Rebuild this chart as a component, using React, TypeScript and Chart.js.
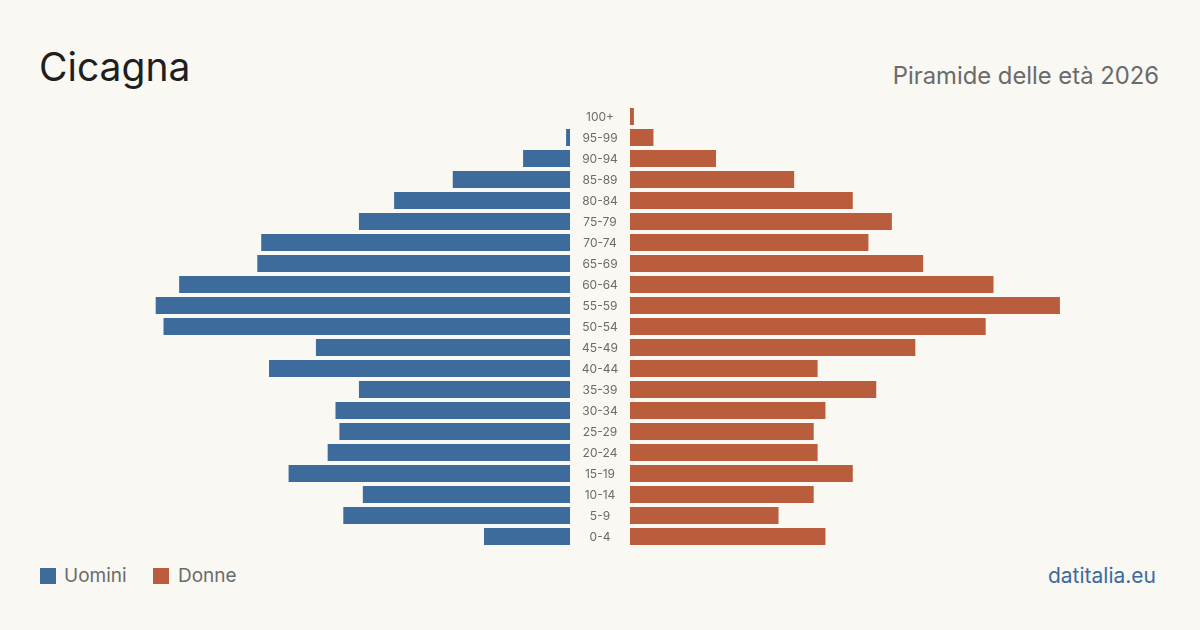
import React, { useEffect, useRef } from "react";
import { Chart, registerables } from "chart.js";

Chart.register(...registerables);

// Age classes, top (oldest) to bottom (youngest)
const ageClasses = [
  "100+", "95-99", "90-94", "85-89", "80-84", "75-79", "70-74", "65-69",
  "60-64", "55-59", "50-54", "45-49", "40-44", "35-39", "30-34", "25-29",
  "20-24", "15-19", "10-14", "5-9", "0-4",
];

// Residents per age class
const men = [0, 1, 12, 30, 45, 54, 79, 80, 100, 106, 104, 65, 77, 54, 60, 59, 62, 72, 53, 58, 22];
const women = [1, 6, 22, 42, 57, 67, 61, 75, 93, 110, 91, 73, 48, 63, 50, 47, 48, 57, 47, 38, 50];

const axisMax = 135.6;

const BLUE = "#3c6b9c";
const RUST = "#b95d3c";
const BG = "#f9f8f3";
const FONT = "Inter, 'Noto Sans', sans-serif";

function baseOptions(reverse: boolean, padLeft: number): any {
  return {
    indexAxis: "y",
    responsive: false,
    animation: false,
    layout: { padding: { left: padLeft, right: 0, top: 0, bottom: 0 } },
    plugins: { legend: { display: false }, tooltip: { enabled: false } },
    scales: {
      x: { display: false, min: 0, max: axisMax, reverse },
      y: { display: false },
    },
  };
}

// Age class labels in the gap between the two halves, placed on the category scale
const ageLabelPlugin = {
  id: "ageLabels",
  afterDraw(chart: any) {
    const { ctx, chartArea, scales } = chart;
    ctx.save();
    ctx.font = `12px ${FONT}`;
    ctx.fillStyle = "#6b6b6b";
    ctx.textAlign = "center";
    ctx.textBaseline = "middle";
    ageClasses.forEach((lab, i) => {
      ctx.fillText(lab, chartArea.left - 30, scales.y.getPixelForValue(i) + 1);
    });
    ctx.restore();
  },
};

export default function App() {
  const leftRef = useRef<HTMLCanvasElement>(null);
  const rightRef = useRef<HTMLCanvasElement>(null);

  useEffect(() => {
    const ds = (data: number[], color: string) => ({
      data,
      backgroundColor: color,
      borderWidth: 0,
      categoryPercentage: 1,
      barPercentage: 17 / 21,
    });
    const left = new Chart(leftRef.current!, {
      type: "bar",
      data: { labels: ageClasses, datasets: [{ label: "Uomini", ...ds(men, BLUE) }] },
      options: baseOptions(true, 0),
    });
    const right = new Chart(rightRef.current!, {
      type: "bar",
      data: { labels: ageClasses, datasets: [{ label: "Donne", ...ds(women, RUST) }] },
      options: baseOptions(false, 60),
      plugins: [ageLabelPlugin],
    });
    return () => {
      left.destroy();
      right.destroy();
    };
  }, []);

  const abs = (s: React.CSSProperties): React.CSSProperties => ({ position: "absolute", ...s });

  return (
    <div
      style={{
        position: "fixed",
        left: 0,
        top: 0,
        width: 1200,
        height: 630,
        background: BG,
        fontFamily: FONT,
        overflow: "hidden",
      }}
    >
      <div style={abs({ left: 39, top: 47, fontSize: 39, lineHeight: 1, color: "#1f1f1f" })}>Cicagna</div>
      <div style={abs({ right: 41, top: 64, fontSize: 23.8, lineHeight: 1, color: "#6b6b6b" })}>
        Piramide delle età 2026
      </div>

      <canvas ref={leftRef} width={530} height={441} style={abs({ left: 40, top: 106, width: 530, height: 441 })} />
      <canvas ref={rightRef} width={590} height={441} style={abs({ left: 570, top: 106, width: 590, height: 441 })} />

      <div style={abs({ left: 40, top: 568, width: 16, height: 16, background: BLUE })} />
      <div style={abs({ left: 64, top: 566, fontSize: 19, lineHeight: 1, color: "#6b6b6b" })}>Uomini</div>
      <div style={abs({ left: 153, top: 568, width: 16, height: 16, background: RUST })} />
      <div style={abs({ left: 178, top: 566, fontSize: 19, lineHeight: 1, color: "#6b6b6b" })}>Donne</div>

      <div style={abs({ right: 44, top: 565, fontSize: 21, lineHeight: 1, color: BLUE })}>datitalia.eu</div>
    </div>
  );
}
